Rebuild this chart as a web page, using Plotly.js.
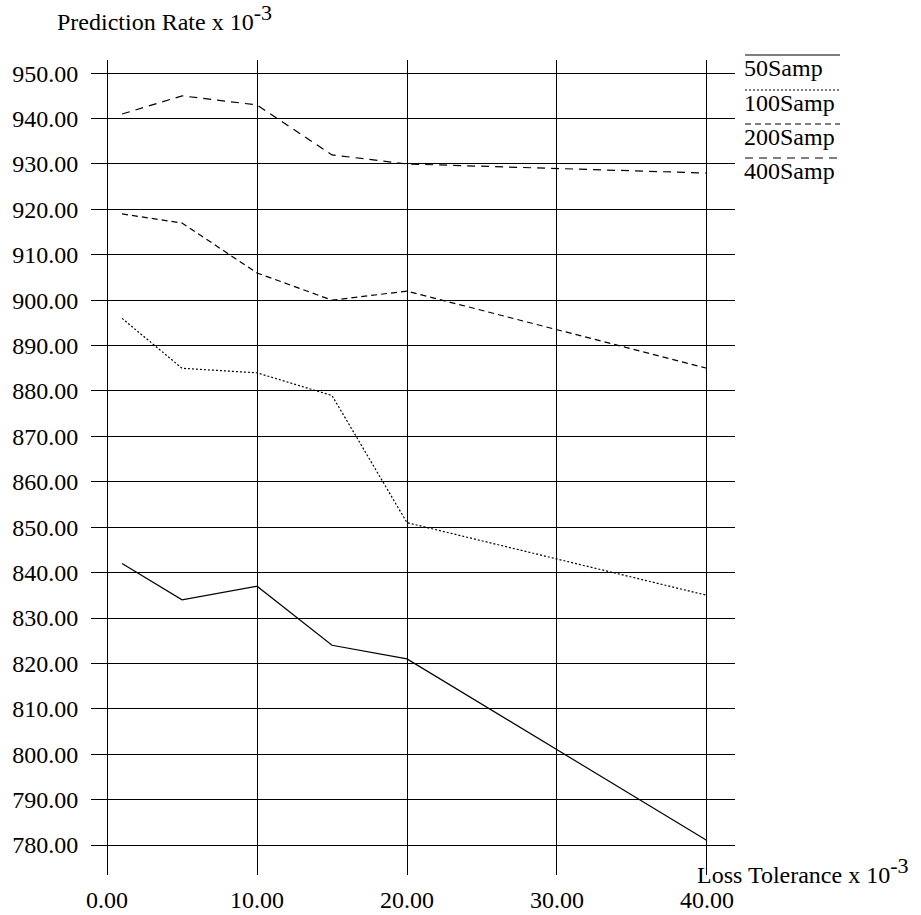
<!DOCTYPE html>
<html>
<head>
<meta charset="utf-8">
<script src="https://cdn.plot.ly/plotly-3.0.1.min.js"></script>
<style>html,body{margin:0;padding:0;background:#fff;}#chart{width:921px;height:915px;}</style>
</head>
<body>
<div id="chart"></div>
<script>
const lossTolerance = [1, 5, 10, 15, 20, 40];
const samp50  = [842, 834, 837, 824, 821, 781];
const samp100 = [896, 885, 884, 879, 851, 835];
const samp200 = [919, 917, 906, 900, 902, 885];
const samp400 = [941, 945, 943, 932, 930, 928];
const seriesNames = ["50Samp", "100Samp", "200Samp", "400Samp"];
const seriesValues = [samp50, samp100, samp200, samp400];
const xTicks = [0, 10, 20, 30, 40];
const yTicks = [780,790,800,810,820,830,840,850,860,870,880,890,900,910,920,930,940,950];

const dashes = ["solid", "2px,2px", "6px,4px", "8px,6px"];
const FONT = "Liberation Serif, Times New Roman, serif";
const FS = 24;

const traces = seriesValues.map((v, i) => ({
  x: lossTolerance, y: v, type: "scatter", mode: "lines", name: seriesNames[i],
  line: {color: "#000", width: 1.2, dash: dashes[i]}, showlegend: false
}));

// custom legend: line above each label
const legendTop = [55, 90, 124, 158];
const shapes = [];
const annotations = [];
seriesNames.forEach((n, i) => {
  shapes.push({type: "line", xref: "paper", yref: "paper",
    x0: (745 - 91) / 644, x1: (840 - 91) / 644,
    y0: 1 - (legendTop[i] - 60) / 815, y1: 1 - (legendTop[i] - 60) / 815,
    line: {color: "#000", width: 1.2, dash: dashes[i]}});
  annotations.push({xref: "paper", yref: "paper", x: (742 - 91) / 644, y: 1 - (legendTop[i] - 2 - 60) / 815,
    xanchor: "left", yanchor: "top", showarrow: false, text: n,
    font: {family: FONT, size: FS, color: "#000"}});
});
const sup = '<sup><span style="font-size:22px">-3</span></sup>';
annotations.push({xref: "paper", yref: "paper", x: (55 - 91) / 644, y: 1 + (60 + 2) / 815,
  xanchor: "left", yanchor: "top", showarrow: false,
  text: "Prediction Rate x 10" + sup, font: {family: FONT, size: FS, color: "#000"}});
annotations.push({xref: "paper", yref: "paper", x: (695 - 91) / 644, y: 1 - (851 - 60) / 815,
  xanchor: "left", yanchor: "top", showarrow: false,
  text: "Loss Tolerance x 10" + sup, font: {family: FONT, size: FS, color: "#000"}});

const layout = {
  width: 921, height: 915,
  margin: {l: 91, r: 186, t: 60, b: 40},
  paper_bgcolor: "#fff", plot_bgcolor: "#fff",
  font: {family: FONT, size: FS, color: "#000"},
  showlegend: false,
  xaxis: {range: [-1.07, 41.87], tickvals: xTicks, tickformat: ".2f",
    showgrid: true, gridcolor: "#000", gridwidth: 1, zeroline: false, showline: false,
    ticks: "outside", ticklen: 3, tickcolor: "rgba(0,0,0,0)",
    tickfont: {family: FONT, size: FS, color: "#000"}},
  yaxis: {range: [773.4, 952.9], tickvals: yTicks,
    tickformat: ".2f", showgrid: true, gridcolor: "#000", gridwidth: 1, zeroline: false, showline: false,
    ticks: "outside", ticklen: 7, tickcolor: "rgba(0,0,0,0)",
    tickfont: {family: FONT, size: FS, color: "#000"}},
  shapes: shapes, annotations: annotations
};

Plotly.newPlot("chart", traces, layout, {displayModeBar: false, staticPlot: true});
</script>
</body>
</html>
